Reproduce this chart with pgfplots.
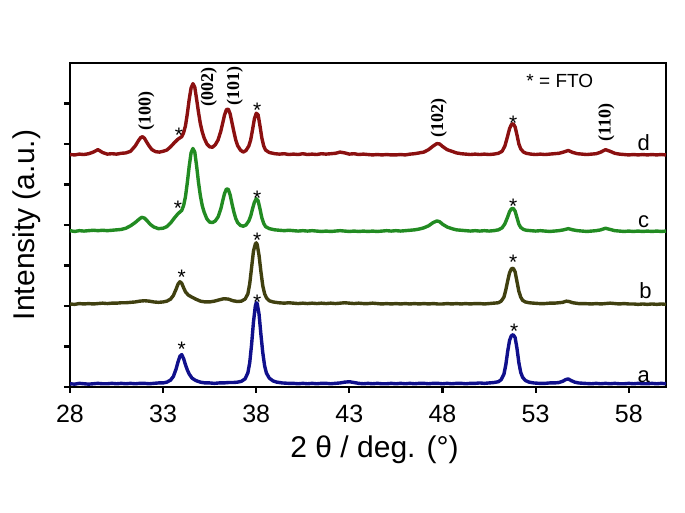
\documentclass[border=0pt]{standalone}
\usepackage{fontspec}
\setmainfont{Liberation Sans}
\newfontfamily\hklfont{Liberation Serif}
\usepackage{pgfplots}
\pgfplotsset{compat=1.18}
\definecolor{xrdA}{HTML}{10108C}
\definecolor{xrdB}{HTML}{404010}
\definecolor{xrdC}{HTML}{228B22}
\definecolor{xrdD}{HTML}{8B1010}
\begin{document}
\begin{tikzpicture}
\path[use as bounding box] (0,0) rectangle (685pt,513pt);
\begin{axis}[
  scale only axis, at={(70pt,126pt)}, anchor=south west,
  width=596pt, height=324pt,
  xmin=28, xmax=60, ymin=0, ymax=8,
  xtick={28,33,...,58}, ytick={0,1,...,7}, yticklabels={},
  tick pos=left, tick align=outside, major tick length=6pt,
  every tick/.style={black,line width=2.2pt},
  axis line style={line width=2.8pt},
  /pgf/number format/assume math mode=true,
  xticklabel style={font=\fontsize{25}{28}\selectfont,inner sep=0pt,yshift=-12pt},
  clip=false,
  every axis plot/.append style={line width=3.4pt,mark=none,line join=round},
]
% a
\addplot[xrdA] coordinates {(28.0,0.08)(28.25,0.07)(28.5,0.09)(28.75,0.08)(29.0,0.07)(29.25,0.08)(29.5,0.09)(29.75,0.08)(30.0,0.08)(30.25,0.09)(30.5,0.08)(30.75,0.09)(31.0,0.08)(31.25,0.09)(31.5,0.08)(31.75,0.09)(32.0,0.09)(32.25,0.08)(32.5,0.09)(32.75,0.10)(33.0,0.10)(33.2,0.12)(33.4,0.17)(33.55,0.26)(33.7,0.45)(33.8,0.62)(33.9,0.76)(34.0,0.80)(34.1,0.70)(34.2,0.55)(34.3,0.42)(34.4,0.32)(34.55,0.22)(34.75,0.16)(35.0,0.12)(35.25,0.10)(35.5,0.10)(35.75,0.09)(36.0,0.10)(36.25,0.10)(36.5,0.11)(36.75,0.11)(37.0,0.12)(37.2,0.14)(37.4,0.20)(37.55,0.35)(37.65,0.60)(37.75,1.05)(37.85,1.60)(37.95,2.00)(38.0,2.08)(38.05,2.06)(38.15,1.80)(38.25,1.30)(38.35,0.85)(38.45,0.52)(38.55,0.34)(38.7,0.22)(38.9,0.15)(39.1,0.12)(39.4,0.10)(39.75,0.09)(40.0,0.09)(40.25,0.08)(40.5,0.09)(40.75,0.08)(41.0,0.09)(41.25,0.08)(41.5,0.09)(41.75,0.09)(42.0,0.08)(42.25,0.09)(42.5,0.10)(42.75,0.12)(43.0,0.13)(43.25,0.11)(43.5,0.09)(43.75,0.08)(44.0,0.09)(44.25,0.08)(44.5,0.09)(44.75,0.08)(45.0,0.08)(45.25,0.09)(45.5,0.08)(45.75,0.09)(46.0,0.08)(46.25,0.09)(46.5,0.08)(46.75,0.09)(47.0,0.09)(47.25,0.08)(47.5,0.09)(47.75,0.09)(48.0,0.08)(48.25,0.09)(48.5,0.08)(48.75,0.09)(49.0,0.09)(49.25,0.08)(49.5,0.09)(49.75,0.09)(50.0,0.10)(50.25,0.09)(50.5,0.10)(50.75,0.11)(51.0,0.13)(51.15,0.18)(51.3,0.32)(51.4,0.55)(51.5,0.88)(51.6,1.15)(51.7,1.27)(51.8,1.29)(51.9,1.22)(52.0,0.95)(52.1,0.60)(52.2,0.36)(52.3,0.24)(52.45,0.16)(52.65,0.12)(52.9,0.10)(53.2,0.09)(53.5,0.09)(53.75,0.10)(54.0,0.10)(54.25,0.11)(54.45,0.14)(54.6,0.18)(54.75,0.20)(54.9,0.16)(55.1,0.12)(55.3,0.10)(55.6,0.09)(56.0,0.08)(56.25,0.09)(56.5,0.08)(56.75,0.09)(57.0,0.08)(57.25,0.09)(57.5,0.08)(57.75,0.08)(58.0,0.09)(58.25,0.08)(58.5,0.09)(58.75,0.08)(59.0,0.08)(59.25,0.09)(59.5,0.08)(59.75,0.09)(60.0,0.08)};
% b
\addplot[xrdB] coordinates {(28.0,2.05)(28.25,2.04)(28.5,2.06)(28.75,2.05)(29.0,2.06)(29.25,2.05)(29.5,2.06)(29.75,2.07)(30.0,2.06)(30.25,2.07)(30.5,2.07)(30.75,2.08)(31.0,2.08)(31.25,2.09)(31.5,2.10)(31.75,2.12)(32.0,2.13)(32.25,2.12)(32.5,2.10)(32.75,2.09)(33.0,2.10)(33.2,2.12)(33.4,2.17)(33.55,2.26)(33.7,2.42)(33.8,2.54)(33.9,2.60)(34.0,2.56)(34.1,2.45)(34.2,2.35)(34.35,2.27)(34.5,2.23)(34.75,2.17)(35.0,2.12)(35.25,2.10)(35.5,2.10)(35.75,2.12)(36.0,2.15)(36.25,2.18)(36.5,2.17)(36.75,2.13)(37.0,2.11)(37.2,2.12)(37.4,2.17)(37.55,2.30)(37.65,2.55)(37.75,2.95)(37.85,3.35)(37.95,3.53)(38.0,3.56)(38.05,3.52)(38.15,3.25)(38.25,2.85)(38.35,2.50)(38.45,2.30)(38.55,2.20)(38.7,2.13)(38.9,2.10)(39.2,2.08)(39.5,2.07)(39.75,2.08)(40.0,2.07)(40.25,2.06)(40.5,2.07)(40.75,2.06)(41.0,2.07)(41.25,2.06)(41.5,2.07)(41.75,2.06)(42.0,2.07)(42.25,2.06)(42.5,2.07)(42.75,2.08)(43.0,2.07)(43.25,2.06)(43.5,2.07)(43.75,2.06)(44.0,2.06)(44.25,2.07)(44.5,2.06)(44.75,2.05)(45.0,2.06)(45.25,2.05)(45.5,2.06)(45.75,2.05)(46.0,2.06)(46.25,2.05)(46.5,2.06)(46.75,2.05)(47.0,2.06)(47.25,2.05)(47.5,2.06)(47.75,2.05)(48.0,2.05)(48.25,2.06)(48.5,2.05)(48.75,2.06)(49.0,2.05)(49.25,2.06)(49.5,2.05)(49.75,2.06)(50.0,2.06)(50.25,2.05)(50.5,2.06)(50.75,2.07)(51.0,2.08)(51.15,2.12)(51.3,2.22)(51.4,2.40)(51.5,2.62)(51.6,2.82)(51.7,2.92)(51.8,2.93)(51.9,2.84)(52.0,2.60)(52.1,2.36)(52.2,2.22)(52.3,2.14)(52.45,2.10)(52.65,2.08)(52.9,2.07)(53.2,2.06)(53.5,2.06)(53.75,2.07)(54.0,2.07)(54.25,2.08)(54.45,2.09)(54.65,2.12)(54.8,2.11)(55.0,2.08)(55.3,2.06)(55.6,2.06)(56.0,2.05)(56.25,2.06)(56.5,2.05)(56.75,2.06)(57.0,2.07)(57.25,2.06)(57.5,2.05)(57.75,2.06)(58.0,2.05)(58.25,2.05)(58.5,2.04)(58.75,2.05)(59.0,2.04)(59.25,2.05)(59.5,2.04)(59.75,2.05)(60.0,2.04)};
% c
\addplot[xrdC] coordinates {(28.0,3.86)(28.25,3.84)(28.5,3.86)(28.75,3.85)(29.0,3.86)(29.25,3.87)(29.5,3.86)(29.75,3.87)(30.0,3.86)(30.25,3.87)(30.5,3.88)(30.75,3.89)(31.0,3.92)(31.25,3.98)(31.5,4.06)(31.7,4.14)(31.85,4.19)(32.0,4.17)(32.15,4.10)(32.3,4.02)(32.5,3.95)(32.75,3.91)(33.0,3.92)(33.2,3.96)(33.4,4.05)(33.6,4.17)(33.8,4.28)(34.0,4.36)(34.1,4.48)(34.2,4.70)(34.3,5.05)(34.4,5.45)(34.5,5.78)(34.6,5.89)(34.7,5.80)(34.8,5.45)(34.9,5.05)(35.0,4.72)(35.1,4.48)(35.2,4.32)(35.35,4.15)(35.5,4.07)(35.65,4.06)(35.8,4.10)(35.95,4.20)(36.1,4.40)(36.2,4.60)(36.3,4.78)(36.4,4.89)(36.5,4.88)(36.6,4.74)(36.7,4.52)(36.8,4.32)(36.9,4.16)(37.0,4.06)(37.15,3.99)(37.3,3.97)(37.45,4.00)(37.6,4.10)(37.7,4.22)(37.8,4.40)(37.9,4.56)(38.0,4.65)(38.1,4.60)(38.2,4.40)(38.3,4.18)(38.4,4.04)(38.5,3.96)(38.7,3.91)(39.0,3.88)(39.25,3.87)(39.5,3.86)(39.75,3.87)(40.0,3.86)(40.25,3.85)(40.5,3.86)(40.75,3.85)(41.0,3.86)(41.25,3.85)(41.5,3.84)(41.75,3.85)(42.0,3.84)(42.25,3.85)(42.5,3.86)(42.75,3.85)(43.0,3.84)(43.25,3.85)(43.5,3.84)(43.75,3.85)(44.0,3.84)(44.25,3.85)(44.5,3.84)(44.75,3.85)(45.0,3.86)(45.25,3.85)(45.5,3.86)(45.75,3.85)(46.0,3.86)(46.25,3.87)(46.5,3.88)(46.75,3.90)(47.0,3.93)(47.25,3.98)(47.5,4.06)(47.7,4.10)(47.85,4.08)(48.0,4.02)(48.25,3.95)(48.5,3.91)(48.75,3.88)(49.0,3.87)(49.25,3.86)(49.5,3.85)(49.75,3.86)(50.0,3.85)(50.25,3.86)(50.5,3.85)(50.75,3.86)(51.0,3.88)(51.2,3.93)(51.35,4.03)(51.5,4.20)(51.6,4.33)(51.7,4.40)(51.8,4.41)(51.9,4.34)(52.0,4.18)(52.1,4.02)(52.2,3.94)(52.35,3.89)(52.5,3.87)(52.75,3.86)(53.0,3.85)(53.25,3.86)(53.5,3.85)(53.75,3.84)(54.0,3.85)(54.25,3.86)(54.5,3.88)(54.75,3.91)(55.0,3.88)(55.25,3.86)(55.5,3.85)(55.75,3.84)(56.0,3.85)(56.25,3.86)(56.5,3.88)(56.75,3.92)(57.0,3.89)(57.25,3.86)(57.5,3.85)(57.75,3.84)(58.0,3.85)(58.25,3.84)(58.5,3.85)(58.75,3.84)(59.0,3.85)(59.25,3.84)(59.5,3.85)(59.75,3.84)(60.0,3.85)};
% d
\addplot[xrdD] coordinates {(28.0,5.74)(28.25,5.73)(28.5,5.75)(28.75,5.74)(29.0,5.76)(29.25,5.80)(29.5,5.86)(29.75,5.79)(30.0,5.75)(30.25,5.76)(30.5,5.75)(30.75,5.77)(31.0,5.78)(31.25,5.82)(31.5,5.95)(31.7,6.10)(31.8,6.16)(31.9,6.18)(32.0,6.14)(32.1,6.06)(32.25,5.95)(32.4,5.86)(32.6,5.81)(32.8,5.80)(33.0,5.82)(33.2,5.85)(33.4,5.93)(33.6,6.03)(33.8,6.12)(34.0,6.18)(34.1,6.28)(34.2,6.45)(34.3,6.75)(34.4,7.10)(34.5,7.38)(34.6,7.49)(34.7,7.40)(34.8,7.10)(34.9,6.78)(35.0,6.50)(35.1,6.30)(35.2,6.15)(35.35,6.00)(35.5,5.93)(35.65,5.92)(35.8,5.98)(35.95,6.10)(36.1,6.32)(36.2,6.52)(36.3,6.72)(36.4,6.85)(36.5,6.86)(36.6,6.74)(36.7,6.52)(36.8,6.30)(36.9,6.10)(37.0,5.96)(37.15,5.85)(37.3,5.80)(37.45,5.84)(37.6,5.95)(37.7,6.10)(37.8,6.35)(37.9,6.62)(38.0,6.76)(38.1,6.72)(38.2,6.45)(38.3,6.15)(38.4,5.95)(38.5,5.85)(38.7,5.79)(39.0,5.76)(39.25,5.75)(39.5,5.76)(39.75,5.74)(40.0,5.75)(40.25,5.74)(40.5,5.76)(40.75,5.74)(41.0,5.75)(41.25,5.74)(41.5,5.76)(41.75,5.75)(42.0,5.76)(42.25,5.77)(42.5,5.80)(42.75,5.78)(43.0,5.75)(43.25,5.76)(43.5,5.74)(43.75,5.75)(44.0,5.74)(44.25,5.73)(44.5,5.74)(44.75,5.73)(45.0,5.74)(45.25,5.73)(45.5,5.73)(45.75,5.74)(46.0,5.73)(46.25,5.75)(46.5,5.76)(46.75,5.78)(47.0,5.80)(47.25,5.86)(47.5,5.95)(47.7,6.01)(47.85,6.00)(48.0,5.94)(48.25,5.86)(48.5,5.82)(48.75,5.78)(49.0,5.76)(49.25,5.75)(49.5,5.74)(49.75,5.75)(50.0,5.74)(50.25,5.75)(50.5,5.74)(50.75,5.75)(51.0,5.77)(51.2,5.82)(51.35,5.95)(51.5,6.20)(51.6,6.38)(51.7,6.48)(51.8,6.50)(51.9,6.42)(52.0,6.22)(52.1,6.00)(52.2,5.88)(52.35,5.80)(52.5,5.77)(52.75,5.75)(53.0,5.74)(53.25,5.75)(53.5,5.74)(53.75,5.75)(54.0,5.76)(54.25,5.77)(54.5,5.80)(54.75,5.84)(55.0,5.79)(55.25,5.76)(55.5,5.75)(55.75,5.74)(56.0,5.75)(56.25,5.76)(56.5,5.80)(56.75,5.86)(57.0,5.82)(57.25,5.77)(57.5,5.75)(57.75,5.74)(58.0,5.73)(58.25,5.74)(58.5,5.73)(58.75,5.74)(59.0,5.73)(59.25,5.74)(59.5,5.73)(59.75,5.74)(60.0,5.73)};
% FTO stars
\tikzset{star/.style={font=\fontsize{21}{23}\selectfont,inner sep=0pt}}
\node[star] at (axis cs:33.85,6.22) {*};
\node[star] at (axis cs:38.05,6.84) {*};
\node[star] at (axis cs:51.8,6.52) {*};
\node[star] at (axis cs:33.8,4.42) {*};
\node[star] at (axis cs:38.05,4.67) {*};
\node[star] at (axis cs:51.8,4.45) {*};
\node[star] at (axis cs:34.0,2.72) {*};
\node[star] at (axis cs:38.05,3.63) {*};
\node[star] at (axis cs:51.8,3.07) {*};
\node[star] at (axis cs:34.0,0.92) {*};
\node[star] at (axis cs:38.05,2.08) {*};
\node[star] at (axis cs:51.85,1.37) {*};
% hkl
\tikzset{hkl/.style={font=\hklfont\bfseries\fontsize{18}{20}\selectfont,rotate=90,inner sep=0pt}}
\node[hkl] at (axis cs:32.1,6.82) {(100)};
\node[hkl] at (axis cs:35.45,7.41) {(002)};
\node[hkl] at (axis cs:36.85,7.44) {(101)};
\node[hkl] at (axis cs:47.8,6.63) {(102)};
\node[hkl] at (axis cs:56.8,6.53) {(110)};
% sample labels
\tikzset{tag/.style={font=\fontsize{22}{24}\selectfont,anchor=base,inner sep=0pt}}
\node[tag] at (axis cs:58.8,5.84) {d};
\node[tag] at (axis cs:58.8,3.94) {c};
\node[tag] at (axis cs:58.9,2.19) {b};
\node[tag] at (axis cs:58.8,0.12) {a};
\node[font=\fontsize{19}{21}\selectfont,anchor=base,inner sep=0pt] at (axis cs:54.3,7.39) {* = FTO};
% axis labels
\node[font=\fontsize{30}{34}\selectfont,anchor=base,inner sep=0pt] at (axis description cs:0.511,-0.219) {2 θ / deg. (°)};
\node[font=\fontsize{30}{34}\selectfont,anchor=base,rotate=90,inner sep=0pt] at (axis description cs:-0.059,0.5) {Intensity (a.u.)};
\end{axis}
\end{tikzpicture}
\end{document}
